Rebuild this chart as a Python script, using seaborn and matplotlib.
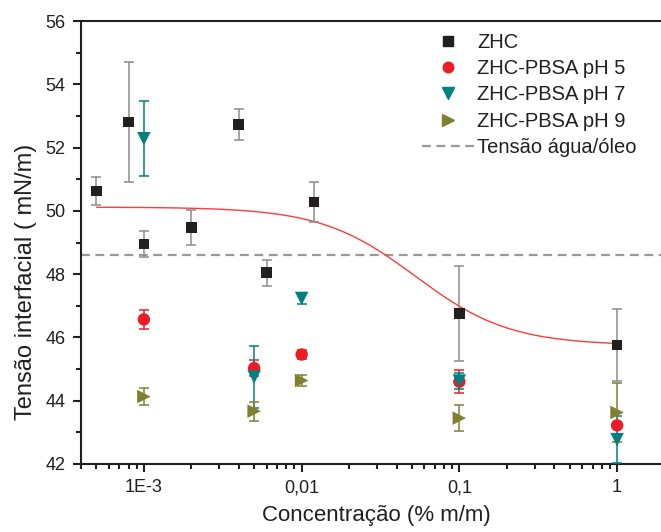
import numpy as np
import pandas as pd
import seaborn as sns
import matplotlib.pyplot as plt
from matplotlib.ticker import FixedLocator, FixedFormatter, LogLocator, MultipleLocator, NullFormatter
from matplotlib.lines import Line2D

# ZHC
zhc_x = [0.0005, 0.0008, 0.001, 0.002, 0.004, 0.006, 0.012, 0.1, 1]
zhc_y = [50.63, 52.81, 48.95, 49.47, 52.73, 48.04, 50.28, 46.76, 45.76]
zhc_err = [0.45, 1.9, 0.4, 0.55, 0.48, 0.42, 0.62, 1.5, 1.15]

# ZHC-PBSA pH 5
ph5_x = [0.001, 0.005, 0.01, 0.1, 1]
ph5_y = [46.57, 45.03, 45.46, 44.6, 43.22]
ph5_err = [0.3, 0.25, 0.13, 0.37, 0.05]

# ZHC-PBSA pH 7
ph7_x = [0.001, 0.005, 0.01, 0.1, 1]
ph7_y = [52.28, 44.75, 47.23, 44.62, 42.77]
ph7_err = [1.18, 0.97, 0.16, 0.26, 0.75]

# ZHC-PBSA pH 9
ph9_x = [0.001, 0.005, 0.01, 0.1, 1]
ph9_y = [44.13, 43.67, 44.64, 43.45, 43.63]
ph9_err = [0.27, 0.3, 0.18, 0.41, 0.93]

# tensao agua/oleo
agua_oleo = 48.62

# ajuste sigmoidal (ZHC)
fit_a1, fit_a2, fit_x0, fit_p = 50.12, 45.75, 0.0526, 1.45

tick_vals = [0.001, 0.01, 0.1, 1]
tick_labels = ['1E-3', '0,01', '0,1', '1']

series = [
    ('ZHC', zhc_x, zhc_y, zhc_err, 's', '#231f20', '#8c8c8c', 60),
    ('ZHC-PBSA pH 5', ph5_x, ph5_y, ph5_err, 'o', '#ed1c24', '#ed1c24', 80),
    ('ZHC-PBSA pH 7', ph7_x, ph7_y, ph7_err, 'v', '#008080', '#008080', 95),
    ('ZHC-PBSA pH 9', ph9_x, ph9_y, ph9_err, '>', '#808033', '#808033', 95),
]

sns.set_style('ticks')
plt.rcParams['font.family'] = ['Liberation Sans', 'DejaVu Sans']

fig = plt.figure(figsize=(6.61, 5.32), dpi=100)
ax = fig.add_axes([81 / 661, 1 - 464 / 532, 1 - 81 / 661, 443 / 532])

# curva de ajuste
xs = np.logspace(np.log10(0.0005), 0, 200)
fit = pd.DataFrame({'x': xs, 'y': fit_a2 + (fit_a1 - fit_a2) / (1 + (xs / fit_x0) ** fit_p)})
sns.lineplot(data=fit, x='x', y='y', ax=ax, color='#ff3b3b', lw=1, zorder=2)

ax.axhline(agua_oleo, color='#999999', lw=1.6, ls=(0, (4, 2.5)), zorder=1)

handles = []
for name, x, y, err, mk, col, ecol, s in series:
    ax.errorbar(x, y, yerr=err, fmt='none', ecolor=ecol, elinewidth=1.1,
                capsize=3.3, capthick=1.1, zorder=3)
    df = pd.DataFrame({'x': x, 'y': y})
    sns.scatterplot(data=df, x='x', y='y', ax=ax, marker=mk, color=col, s=s,
                    edgecolor='none', zorder=4)
    handles.append(Line2D([], [], marker=mk, color=col, ls='none', markersize=np.sqrt(s) * 0.85))
handles.append(Line2D([], [], color='#999999', lw=1.6, ls=(0, (4, 2.5))))

ax.set_xscale('log')
ax.set_xlim(10 ** (-3 - 63 / 158), 10 ** (44 / 158))
ax.set_ylim(42, 56)
ax.xaxis.set_major_locator(FixedLocator(tick_vals))
ax.xaxis.set_major_formatter(FixedFormatter(tick_labels))
ax.xaxis.set_minor_locator(LogLocator(base=10, subs=np.arange(2, 10)))
ax.xaxis.set_minor_formatter(NullFormatter())
ax.yaxis.set_major_locator(MultipleLocator(2))
ax.yaxis.set_minor_locator(MultipleLocator(1))

for sp in ['left', 'bottom', 'top']:
    ax.spines[sp].set_linewidth(1.5)
    ax.spines[sp].set_color('#231f20')
ax.spines['right'].set_visible(False)
ax.tick_params(which='major', direction='out', length=6, width=1.5, color='#231f20',
               labelsize=13, pad=5, labelcolor='#231f20')
ax.tick_params(which='minor', direction='out', length=3.5, width=1.5, color='#231f20')
ax.tick_params(top=False, right=False, which='both')

ax.set_xlabel('Concentração (% m/m)', fontsize=16, color='#231f20')
ax.set_ylabel('Tensão interfacial ( mN/m)', fontsize=17, color='#231f20')
ax.xaxis.set_label_coords((376 - 81) / 580, -(505 - 464) / 443)
ax.yaxis.set_label_coords(-(81 - 37) / 580, 1 - (282 - 21) / 443)

leg = ax.legend(handles, ['ZHC', 'ZHC-PBSA pH 5', 'ZHC-PBSA pH 7', 'ZHC-PBSA pH 9', 'Tensão água/óleo'],
                loc='upper left', bbox_to_anchor=(422 / 661, 1 - 33 / 532),
                bbox_transform=fig.transFigure, frameon=False, fontsize=14.5,
                handlelength=2.6, handletextpad=0.15, labelspacing=0.36, borderpad=0,
                borderaxespad=0)
for t in leg.get_texts():
    t.set_color('#231f20')

fig.savefig('out.png', dpi=100)
